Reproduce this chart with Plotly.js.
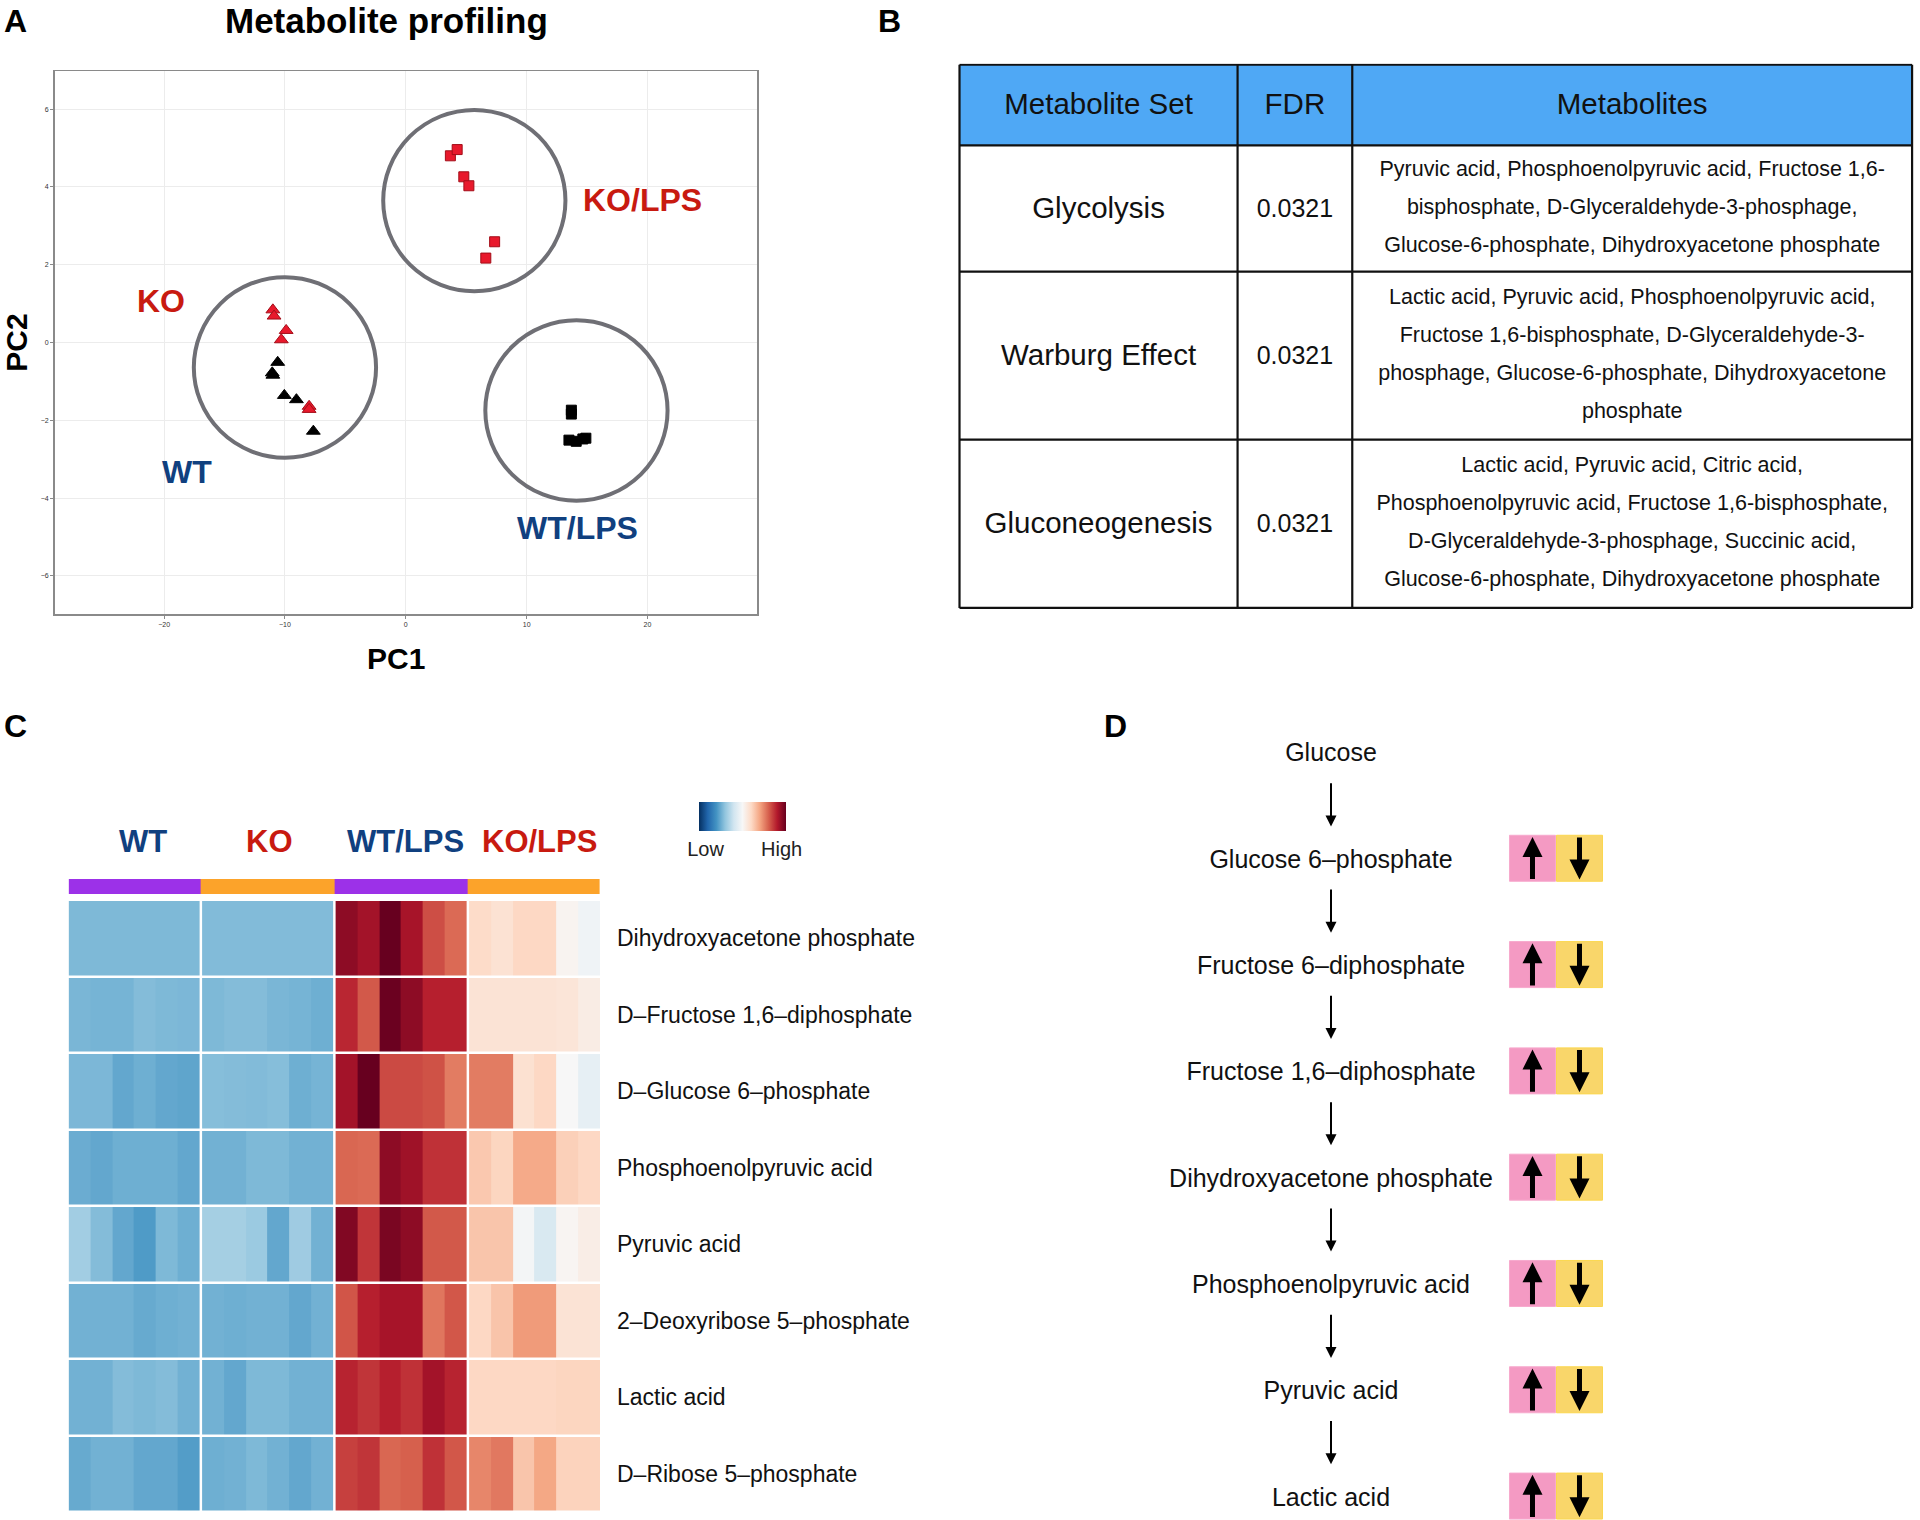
<!DOCTYPE html>
<html><head><meta charset="utf-8">
<script src="https://cdn.plot.ly/plotly-3.0.1.min.js"></script>
<style>html,body{margin:0;padding:0;background:#fff}#chart{width:1920px;height:1520px}</style>
</head><body><div id="chart"></div>
<script>
// ================= DATA =================
// Panel A: PCA scores
const wtPC1 = [-10.6, -11.05, -11.0, -10.05, -9.05, -7.65];
const wtPC2 = [-0.51, -0.78, -0.84, -1.36, -1.47, -2.28];
const koPC1 = [-11.0, -10.9, -9.9, -10.3, -8.0, -8.0];
const koPC2 = [0.84, 0.68, 0.31, 0.07, -1.64, -1.72];
const wtLpsPC1 = [13.7, 13.7, 13.5, 14.1, 14.65, 14.9];
const wtLpsPC2 = [-1.74, -1.84, -2.51, -2.54, -2.48, -2.46];
const koLpsPC1 = [3.69, 4.25, 4.80, 5.22, 7.35, 6.62];
const koLpsPC2 = [4.80, 4.96, 4.26, 4.03, 2.59, 2.17];
const ellipseCenterPC1 = [-10.0, 5.67, 14.12];
const ellipseCenterPC2 = [-0.64, 3.65, -1.75];
const ellipseRadiusPC1 = [7.54, 7.54, 7.54];
const ellipseRadiusPC2 = [2.32, 2.33, 2.32];
const pcaLabelText = ['KO/LPS', 'KO', 'WT', 'WT/LPS'];
const pcaLabelPC1 = [19.6, -20.25, -18.1, 14.2];
const pcaLabelPC2 = [3.66, 1.06, -3.32, -4.77];
const pcaXTicks = [-20, -10, 0, 10, 20];
const pcaYTicks = [-6, -4, -2, 0, 2, 4, 6];

// Panel B: enrichment table
const tableHeader = ['Metabolite Set', 'FDR', 'Metabolites'];
const setNames = ['Glycolysis', 'Warburg Effect', 'Gluconeogenesis'];
const setFDR = ['0.0321', '0.0321', '0.0321'];
const setMetaboliteLines = [
  ['Pyruvic acid, Phosphoenolpyruvic acid, Fructose 1,6-', 'bisphosphate, D-Glyceraldehyde-3-phosphage,', 'Glucose-6-phosphate, Dihydroxyacetone phosphate'],
  ['Lactic acid, Pyruvic acid, Phosphoenolpyruvic acid,', 'Fructose 1,6-bisphosphate, D-Glyceraldehyde-3-', 'phosphage, Glucose-6-phosphate, Dihydroxyacetone', 'phosphate'],
  ['Lactic acid, Pyruvic acid, Citric acid,', 'Phosphoenolpyruvic acid, Fructose 1,6-bisphosphate,', 'D-Glyceraldehyde-3-phosphage, Succinic acid,', 'Glucose-6-phosphate, Dihydroxyacetone phosphate']
];

// Panel C: heatmap (scaled abundance), rows = metabolites, 6 samples per group
const heatGroups = ['WT', 'KO', 'WT/LPS', 'KO/LPS'];
const heatGenotype = [0, 1, 0, 1]; // 0 = WT, 1 = KO
const metabolites = ['Dihydroxyacetone phosphate', 'D\u2013Fructose 1,6\u2013diphosphate', 'D\u2013Glucose 6\u2013phosphate',
  'Phosphoenolpyruvic acid', 'Pyruvic acid', '2\u2013Deoxyribose 5\u2013phosphate', 'Lactic acid', 'D\u2013Ribose 5\u2013phosphate'];
const heatWT = [
  [-0.45, -0.45, -0.45, -0.45, -0.45, -0.45],
  [-0.46, -0.47, -0.47, -0.435, -0.45, -0.455],
  [-0.455, -0.455, -0.52, -0.49, -0.52, -0.53],
  [-0.5, -0.52, -0.49, -0.49, -0.49, -0.52],
  [-0.35, -0.435, -0.52, -0.57, -0.45, -0.49],
  [-0.48, -0.48, -0.48, -0.51, -0.49, -0.48],
  [-0.48, -0.48, -0.435, -0.45, -0.435, -0.48],
  [-0.51, -0.48, -0.48, -0.52, -0.52, -0.56]
];
const heatKO = [
  [-0.44, -0.44, -0.44, -0.44, -0.44, -0.44],
  [-0.45, -0.435, -0.435, -0.46, -0.47, -0.49],
  [-0.43, -0.435, -0.44, -0.43, -0.49, -0.47],
  [-0.48, -0.48, -0.45, -0.45, -0.48, -0.48],
  [-0.34, -0.34, -0.37, -0.52, -0.36, -0.48],
  [-0.48, -0.49, -0.48, -0.48, -0.52, -0.48],
  [-0.48, -0.52, -0.45, -0.45, -0.48, -0.48],
  [-0.49, -0.48, -0.45, -0.48, -0.52, -0.48]
];
const heatWTLPS = [
  [0.9, 0.84, 1.0, 0.83, 0.65, 0.57],
  [0.76, 0.62, 0.99, 0.9, 0.78, 0.78],
  [0.84, 1.0, 0.66, 0.66, 0.64, 0.52],
  [0.58, 0.57, 0.9, 0.85, 0.73, 0.73],
  [0.93, 0.72, 0.95, 0.9, 0.62, 0.62],
  [0.63, 0.78, 0.83, 0.83, 0.535, 0.625],
  [0.77, 0.72, 0.78, 0.73, 0.84, 0.77],
  [0.69, 0.72, 0.58, 0.6, 0.73, 0.625]
];
const heatKOLPS = [
  [0.19, 0.15, 0.21, 0.21, 0.03, -0.04],
  [0.14, 0.14, 0.14, 0.14, 0.13, 0.08],
  [0.52, 0.52, 0.16, 0.21, 0.0, -0.09],
  [0.27, 0.22, 0.38, 0.38, 0.24, 0.21],
  [0.28, 0.28, -0.02, -0.16, 0.02, 0.07],
  [0.21, 0.285, 0.43, 0.43, 0.14, 0.14],
  [0.21, 0.21, 0.21, 0.21, 0.22, 0.22],
  [0.49, 0.53, 0.28, 0.39, 0.23, 0.23]
];
const heatLegendText = ['Low', 'High'];

// Panel D: pathway
const pathwaySteps = ['Glucose', 'Glucose 6\u2013phosphate', 'Fructose 6\u2013diphosphate', 'Fructose 1,6\u2013diphosphate',
  'Dihydroxyacetone phosphate', 'Phosphoenolpyruvic acid', 'Pyruvic acid', 'Lactic acid'];
const stepUp = [false, true, true, true, true, true, true, true];
const stepDown = [false, true, true, true, true, true, true, true];

// ================= STYLE / LAYOUT =================
const FONT = 'Liberation Sans, Arial, Helvetica, sans-serif';
const W = 1920, H = 1520;
const px = v => v / W;            // x pixel -> paper
const py = v => 1 - v / H;        // y pixel -> paper
const RED = '#c81a10', NAVY = '#10407f';

const traces = [];
const shapes = [];
const annotations = [];

// ---------- Panel A ----------
const pcaSets = [
  {x: wtPC1, y: wtPC2, sym: 'triangle-up', col: '#000000', line: '#000000', size: 12},
  {x: koPC1, y: koPC2, sym: 'triangle-up', col: '#e8192c', line: '#a30d18', size: 12},
  {x: wtLpsPC1, y: wtLpsPC2, sym: 'square', col: '#000000', line: '#000000', size: 10},
  {x: koLpsPC1, y: koLpsPC2, sym: 'square', col: '#e8192c', line: '#a30d18', size: 10}
];
pcaSets.forEach(s => traces.push({
  type: 'scatter', mode: 'markers', x: s.x, y: s.y, xaxis: 'x', yaxis: 'y',
  marker: {symbol: s.sym, color: s.col, size: s.size, line: {color: s.line, width: 1}},
  hoverinfo: 'skip', showlegend: false
}));
ellipseCenterPC1.forEach((cx, i) => shapes.push({
  type: 'circle', xref: 'x', yref: 'y',
  x0: cx - ellipseRadiusPC1[i], x1: cx + ellipseRadiusPC1[i],
  y0: ellipseCenterPC2[i] - ellipseRadiusPC2[i], y1: ellipseCenterPC2[i] + ellipseRadiusPC2[i],
  line: {color: '#6f6f75', width: 4}
}));
pcaLabelText.forEach((t, i) => annotations.push({
  xref: 'x', yref: 'y', x: pcaLabelPC1[i], y: pcaLabelPC2[i], text: '<b>' + t + '</b>', showarrow: false,
  xanchor: 'center', yanchor: 'middle',
  font: {family: FONT, size: 32, color: t.startsWith('KO') ? RED : NAVY}
}));
annotations.push({xref: 'paper', yref: 'paper', x: px(386), y: py(20), xanchor: 'center', yanchor: 'middle',
  text: '<b>Metabolite profiling</b>', showarrow: false, font: {family: FONT, size: 35, color: '#000'}});
annotations.push({xref: 'paper', yref: 'paper', x: px(396), y: py(659), xanchor: 'center', yanchor: 'middle',
  text: '<b>PC1</b>', showarrow: false, font: {family: FONT, size: 30, color: '#000'}});

// ---------- Panel B ----------
const TB = {left: 957.6, right: 1914, top: 63.7, headerH: 81, lineH: 42.2, textLine: 38};
const colBounds = [0, 0.2919, 0.4123, 1];
const rowHeights = setMetaboliteLines.map(l => l.length * TB.lineH);
const rowTops = [];
let acc = TB.headerH;
rowHeights.forEach(h => { rowTops.push(acc); acc += h; });
const tableH = acc;
const colCenter = k => (colBounds[k] + colBounds[k + 1]) / 2;
shapes.push({type: 'rect', xref: 'x2', yref: 'y2', x0: 0, x1: 1, y0: 0, y1: TB.headerH,
  fillcolor: '#4fa8f5', line: {width: 0}, layer: 'below'});
[0, TB.headerH].concat(rowTops.map((t, i) => t + rowHeights[i])).forEach(yv => shapes.push({
  type: 'line', xref: 'x2', yref: 'y2', x0: 0, x1: 1, y0: yv, y1: yv, line: {color: '#111', width: 2.2}
}));
colBounds.forEach(xv => shapes.push({
  type: 'line', xref: 'x2', yref: 'y2', x0: xv, x1: xv, y0: 0, y1: tableH, line: {color: '#111', width: 2.2}
}));
traces.push({type: 'scatter', mode: 'text', xaxis: 'x2', yaxis: 'y2', hoverinfo: 'skip', showlegend: false,
  x: tableHeader.map((_, k) => colCenter(k)), y: tableHeader.map(() => TB.headerH / 2 + 2),
  text: tableHeader, textfont: {family: FONT, size: 29.5, color: '#111'}});
traces.push({type: 'scatter', mode: 'text', xaxis: 'x2', yaxis: 'y2', hoverinfo: 'skip', showlegend: false,
  x: setNames.map(() => colCenter(0)), y: setNames.map((_, i) => rowTops[i] + rowHeights[i] / 2 + 2),
  text: setNames, textfont: {family: FONT, size: 29.5, color: '#111'}});
traces.push({type: 'scatter', mode: 'text', xaxis: 'x2', yaxis: 'y2', hoverinfo: 'skip', showlegend: false,
  x: setFDR.map(() => colCenter(1)), y: setFDR.map((_, i) => rowTops[i] + rowHeights[i] / 2 + 2),
  text: setFDR, textfont: {family: FONT, size: 25, color: '#111'}});
const mx = [], my = [], mt = [];
setMetaboliteLines.forEach((lines, i) => {
  const c = rowTops[i] + rowHeights[i] / 2;
  lines.forEach((l, k) => { mx.push(colCenter(2)); my.push(c + (k - (lines.length - 1) / 2) * TB.textLine); mt.push(l); });
});
traces.push({type: 'scatter', mode: 'text', xaxis: 'x2', yaxis: 'y2', hoverinfo: 'skip', showlegend: false,
  x: mx, y: my, text: mt, textfont: {family: FONT, size: 21.5, color: '#111'}});

// ---------- Panel C ----------
const GAP = 0.12, NS = 6;
const colPos = (g, i) => g * (NS + GAP) + i;
const rdbu = [[0, '#053061'], [0.1, '#2166ac'], [0.2, '#4393c3'], [0.3, '#92c5de'], [0.4, '#d1e5f0'], [0.5, '#f7f7f7'],
  [0.6, '#fddbc7'], [0.7, '#f4a582'], [0.8, '#d6604d'], [0.9, '#b2182b'], [1, '#67001f']];
[heatWT, heatKO, heatWTLPS, heatKOLPS].forEach((z, g) => {
  const tr = {type: 'heatmap', xaxis: 'x3', yaxis: 'y3', z: z, y: metabolites,
    x: Array.from({length: NS}, (_, i) => colPos(g, i)), colorscale: rdbu, zmin: -1, zmax: 1,
    ygap: 2.5, xgap: 0, hoverinfo: 'skip', showscale: g === 0};
  if (g === 0) tr.colorbar = {orientation: 'h', x: px(742.5), xanchor: 'center', y: py(802), yanchor: 'top',
    len: 87, lenmode: 'pixels', thickness: 29, thicknessmode: 'pixels', outlinewidth: 0, xpad: 0, ypad: 0,
    tickvals: [-0.85, 0.9], ticktext: heatLegendText, ticks: '', tickfont: {family: FONT, size: 20, color: '#222'}};
  traces.push(tr);
});
const barX = [], barZ = [];
heatGroups.forEach((_, g) => { for (let i = 0; i < NS; i++) { barX.push(colPos(g, i)); barZ.push(heatGenotype[g]); } });
traces.push({type: 'heatmap', xaxis: 'x3', yaxis: 'y4', x: barX, y: ['Genotype'], z: [barZ],
  colorscale: [[0, '#9c31e8'], [1, '#fca32a']], zmin: 0, zmax: 1, showscale: false, hoverinfo: 'skip'});
const groupLabelShift = [9, 2, 4, 5];
heatGroups.forEach((gname, g) => annotations.push({
  xref: 'x3', yref: 'paper', x: colPos(g, (NS - 1) / 2), y: py(841), xanchor: 'center', yanchor: 'middle',
  xshift: groupLabelShift[g], showarrow: false,
  text: '<b>' + gname + '</b>', font: {family: FONT, size: 31, color: gname.startsWith('KO') ? RED : NAVY}
}));

// ---------- Panel D ----------
const idx = pathwaySteps.map((_, i) => i);
const BOX_UP_X = 4.287, BOX_DN_X = 5.287;
traces.push({type: 'scatter', mode: 'text', xaxis: 'x5', yaxis: 'y5', x: idx.map(() => 0), y: idx.map(i => i + 0.03),
  text: pathwaySteps, textfont: {family: FONT, size: 25, color: '#111'}, hoverinfo: 'skip', showlegend: false, cliponaxis: false});
const upIdx = idx.filter(i => stepUp[i]), dnIdx = idx.filter(i => stepDown[i]);
traces.push({type: 'scatter', mode: 'markers', xaxis: 'x5', yaxis: 'y5', x: upIdx.map(() => BOX_UP_X), y: upIdx,
  marker: {symbol: 'square', size: 46, color: '#f49ac3', line: {color: '#f7a9cd', width: 1}}, hoverinfo: 'skip', showlegend: false, cliponaxis: false});
traces.push({type: 'scatter', mode: 'markers', xaxis: 'x5', yaxis: 'y5', x: dnIdx.map(() => BOX_DN_X), y: dnIdx,
  marker: {symbol: 'square', size: 46, color: '#f9d66a', line: {color: '#fbd750', width: 1}}, hoverinfo: 'skip', showlegend: false, cliponaxis: false});
idx.slice(0, -1).forEach(i => annotations.push({
  xref: 'x5', yref: 'y5', axref: 'x5', ayref: 'y5', x: 0, y: i + 0.7, ax: 0, ay: i + 0.28, text: '',
  showarrow: true, arrowhead: 2, arrowsize: 1.1, arrowwidth: 2, arrowcolor: '#000', standoff: 0, startstandoff: 0
}));
upIdx.forEach(i => annotations.push({
  xref: 'x5', yref: 'y5', axref: 'x5', ayref: 'y5', x: BOX_UP_X, y: i - 0.2, ax: BOX_UP_X, ay: i + 0.21, text: '',
  showarrow: true, arrowhead: 2, arrowsize: 0.8, arrowwidth: 5, arrowcolor: '#000', standoff: 0
}));
dnIdx.forEach(i => annotations.push({
  xref: 'x5', yref: 'y5', axref: 'x5', ayref: 'y5', x: BOX_DN_X, y: i + 0.2, ax: BOX_DN_X, ay: i - 0.21, text: '',
  showarrow: true, arrowhead: 2, arrowsize: 0.8, arrowwidth: 5, arrowcolor: '#000', standoff: 0
}));

// ---------- Panel letters ----------
[['A', 15, 21], ['B', 889, 21], ['C', 15, 726], ['D', 1115, 726]].forEach(([t, x, y]) => annotations.push({
  xref: 'paper', yref: 'paper', x: px(x), y: py(y), xanchor: 'center', yanchor: 'middle',
  text: '<b>' + t + '</b>', showarrow: false, font: {family: FONT, size: 32, color: '#000'}
}));

const hidden = {visible: false, fixedrange: true};
const pcaAxis = {showgrid: true, gridcolor: '#ececec', gridwidth: 1, zeroline: false, showline: true, mirror: true,
  linecolor: '#8a8a8a', linewidth: 1.5, ticks: 'outside', ticklen: 3, tickcolor: '#8a8a8a',
  tickfont: {family: FONT, size: 7, color: '#333'}};

const layout = {
  width: W, height: H, margin: {l: 0, r: 0, t: 0, b: 0}, paper_bgcolor: '#fff', plot_bgcolor: '#fff',
  font: {family: FONT}, showlegend: false,
  xaxis: Object.assign({}, pcaAxis, {domain: [px(54.6), px(757)], range: [-29.06, 29.06], tickvals: pcaXTicks}),
  yaxis: Object.assign({}, pcaAxis, {domain: [py(614), py(71)], range: [-6.98, 6.98], tickvals: pcaYTicks,
    title: {text: '<b>PC2</b>', font: {family: FONT, size: 30, color: '#000'}, standoff: 10}}),
  xaxis2: Object.assign({}, hidden, {domain: [px(TB.left), px(TB.right)], range: [-0.002, 1.002]}),
  yaxis2: Object.assign({}, hidden, {domain: [py(TB.top + tableH), py(TB.top)], range: [tableH + 1, -1]}),
  xaxis3: Object.assign({}, hidden, {domain: [px(68.6), px(600)], range: [-0.5, colPos(3, NS - 1) + 0.5]}),
  yaxis3: {domain: [py(1512), py(900)], autorange: 'reversed', side: 'right', anchor: 'x3', showgrid: false,
    zeroline: false, showline: false, ticks: '', ticklabelstandoff: 16, fixedrange: true,
    tickfont: {family: FONT, size: 23, color: '#111'}},
  yaxis4: Object.assign({}, hidden, {domain: [py(894), py(879)], anchor: 'x3'}),
  xaxis5: Object.assign({}, hidden, {domain: [px(1100), px(1700)], range: [-4.915, 7.851]}),
  yaxis5: Object.assign({}, hidden, {domain: [0, py(700)], range: [7.225, -0.489]}),
  shapes: shapes, annotations: annotations
};
Plotly.newPlot('chart', traces, layout, {staticPlot: true, displayModeBar: false});
</script></body></html>
